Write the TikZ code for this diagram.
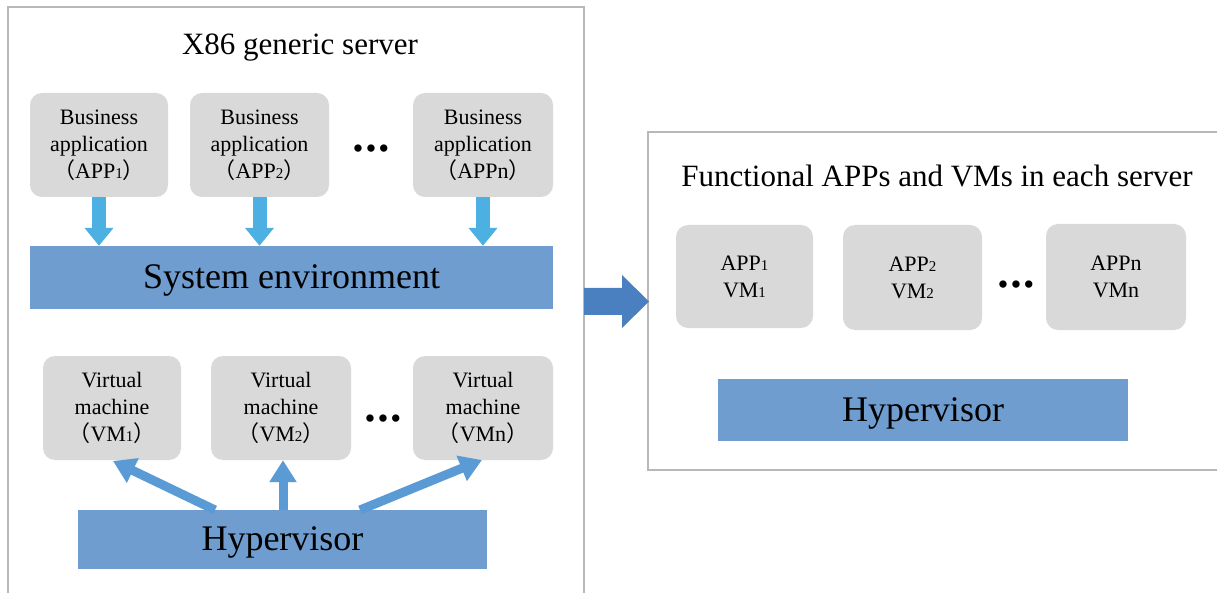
\documentclass[tikz,border=0pt]{standalone}
\usepackage{fontspec}
\setmainfont{Liberation Serif}
\newfontfamily\cjk{Noto Sans CJK SC}
\usetikzlibrary{arrows.meta}
\definecolor{boxgray}{HTML}{D9D9D9}
\definecolor{barblue}{HTML}{6F9DCF}
\definecolor{lightarrow}{HTML}{4DB0E2}
\definecolor{vmarrow}{HTML}{5B9BD5}
\definecolor{bigarrow}{HTML}{4A80C0}
\definecolor{framegray}{HTML}{B8B8B8}
\newcommand{\sm}[1]{{\fontsize{15}{15}\selectfont #1}}
\newcommand{\lp}{{\cjk\fontsize{22}{22}\selectfont （}}
\newcommand{\rp}{{\cjk\fontsize{22}{22}\selectfont ）}}
\newcommand{\threedots}{\textbullet\kern3.5pt\textbullet\kern3.5pt\textbullet}
\tikzset{
  graybox/.style={draw=none, fill=boxgray, rounded corners=12pt, minimum height=104pt,
    inner sep=0pt, align=center, font=\fontsize{22}{27}\selectfont},
  barbox/.style={draw=none, fill=barblue, inner sep=0pt, text height=22pt, text depth=0pt,
    font=\fontsize{36}{40}\selectfont},
  frame/.style={draw=framegray, line width=1.5pt, fill=white},
  titletext/.style={font=\fontsize{31}{34}\selectfont, inner sep=0pt},
  dots/.style={font=\fontsize{27}{27}\selectfont\bfseries, inner sep=0pt},
  downarrow/.style={draw=lightarrow, line width=14pt, -{Triangle[width=28pt,length=18pt]}},
  vmarr/.style={draw=vmarrow, line width=9pt, -{Triangle[width=26pt,length=22pt]}},
}
\begin{document}
\begin{tikzpicture}[x=1pt, y=-1pt]
\useasboundingbox (0,0) rectangle (1217,593);
\fill[white] (0,0) rectangle (1217,593);
% frames
\draw[frame] (8,7) rectangle (584,610);
\draw[frame] (648,132) rectangle (1230,470);
% left title
\node[titletext] (t1) at (300,48) {X86 generic server};
% business apps
\node[graybox, minimum width=138pt] (b1) at (99,145) {Business\\application\\\lp APP\sm{1}\rp};
\node[graybox, minimum width=139pt] (b2) at (259.5,145) {Business\\application\\\lp APP\sm{2}\rp};
\node[dots] (d1) at (371,151) {\threedots};
\node[graybox, minimum width=140pt] (b3) at (483,145) {Business\\application\\\lp APPn\rp};
% system environment
\node[barbox, minimum width=523pt, minimum height=63pt] (sys) at (291.5,277.5) {System environment};
\draw[downarrow] (b1.south) -- (b1.south |- sys.north);
\draw[downarrow] (b2.south) -- (b2.south |- sys.north);
\draw[downarrow] (b3.south) -- (b3.south |- sys.north);
% VMs
\node[graybox, minimum width=138pt] (v1) at (112,408) {Virtual\\machine\\\lp VM\sm{1}\rp};
\node[graybox, minimum width=140pt] (v2) at (281,408) {Virtual\\machine\\\lp VM\sm{2}\rp};
\node[dots] (d2) at (383,421) {\threedots};
\node[graybox, minimum width=140pt] (v3) at (483,408) {Virtual\\machine\\\lp VMn\rp};
% hypervisor left
\node[barbox, minimum width=409pt, minimum height=59pt] (hyp) at (282.5,539.5) {Hypervisor};
\coordinate (hs1) at (215,510);
\coordinate (hs2) at (283,510);
\coordinate (hs3) at (360,510);
\coordinate (ve1) at (113,461);
\coordinate (ve3) at (482,460);
\draw[vmarr] (hs1) -- (ve1);
\draw[vmarr] (hs2) -- (hs2 |- v2.south);
\draw[vmarr] (hs3) -- (ve3);
% big arrow
\fill[bigarrow] (584,288) -- (622,288) -- (622,275) -- (649,301.5) -- (622,328) -- (622,315) -- (584,315) -- cycle;
% right side
\node[titletext] (t2) at (937,176) {Functional APPs and VMs in each server};
\node[graybox, minimum width=137pt, minimum height=103pt] (r1) at (744.5,276.5) {APP\sm{1}\\VM\sm{1}};
\node[graybox, minimum width=139pt, minimum height=105pt] (r2) at (912.5,277.5) {APP\sm{2}\\VM\sm{2}};
\node[dots] (d3) at (1016,287) {\threedots};
\node[graybox, minimum width=140pt, minimum height=106pt] (r3) at (1116,277) {APPn\\VMn};
\node[barbox, minimum width=410pt, minimum height=62pt] (rhyp) at (923,410) {Hypervisor};
\end{tikzpicture}
\end{document}
